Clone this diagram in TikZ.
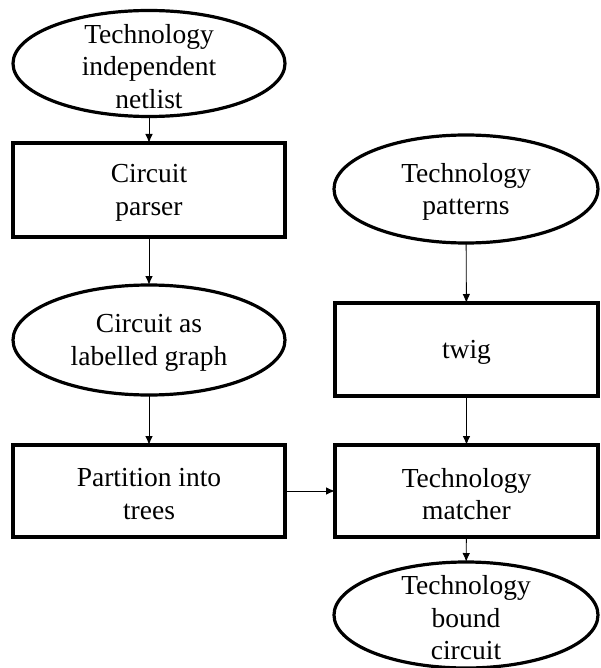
\documentclass[tikz,border=0pt]{standalone}
\usepackage{fontspec}
\setmainfont{Liberation Serif}
\newfontfamily\labelserif{Liberation Serif}
\usetikzlibrary{shapes.geometric,arrows.meta}

\tikzset{
  txt/.style={align=center, inner sep=0pt, yshift=-3pt, font=\labelserif\fontsize{27.5}{32.5}\selectfont},
  procbox/.style={draw, line width=3.2pt, rectangle, inner sep=0pt, outer sep=0pt},
  databubble/.style={draw, line width=3.2pt, ellipse, inner sep=0pt, outer sep=0pt},
  flow/.style={line width=0.9pt, -{Latex[length=9pt,width=7.5pt]}}
}

\begin{document}
\begin{tikzpicture}[x=1pt,y=-1pt]
  \useasboundingbox (0,0) rectangle (600,668);

  % left column
  \node[databubble, minimum width=272, minimum height=106,
        label={[txt]center:Technology\\independent\\netlist}] (netlist) at (149,63.5) {};
  \node[procbox, minimum width=272, minimum height=94,
        label={[txt]center:Circuit\\parser}] (parser) at (149,190) {};
  \node[databubble, minimum width=272, minimum height=110,
        label={[txt]center:Circuit as\\labelled graph}] (graph) at (149,340) {};
  \node[procbox, minimum width=272, minimum height=92,
        label={[txt]center:Partition into\\trees}] (partition) at (149,491) {};

  % right column
  \node[databubble, minimum width=264, minimum height=108,
        label={[txt]center:Technology\\patterns}] (patterns) at (466,189) {};
  \node[procbox, minimum width=263, minimum height=93,
        label={[txt]center:twig}] (twig) at (466.5,349.5) {};
  \node[procbox, minimum width=263, minimum height=92,
        label={[txt]center:Technology\\matcher}] (matcher) at (466.5,491) {};
  \node[databubble, minimum width=264, minimum height=106,
        label={[txt]center:Technology\\bound\\circuit}] (bound) at (466,615) {};

  % connectors
  \draw[flow] (netlist) -- (parser);
  \draw[flow] (parser) -- (graph);
  \draw[flow] (graph) -- (partition);
  \draw[flow] (patterns) -- (twig);
  \draw[flow] (twig) -- (matcher);
  \draw[flow] (partition) -- (matcher);
  \draw[flow] (matcher) -- (bound);
\end{tikzpicture}
\end{document}
